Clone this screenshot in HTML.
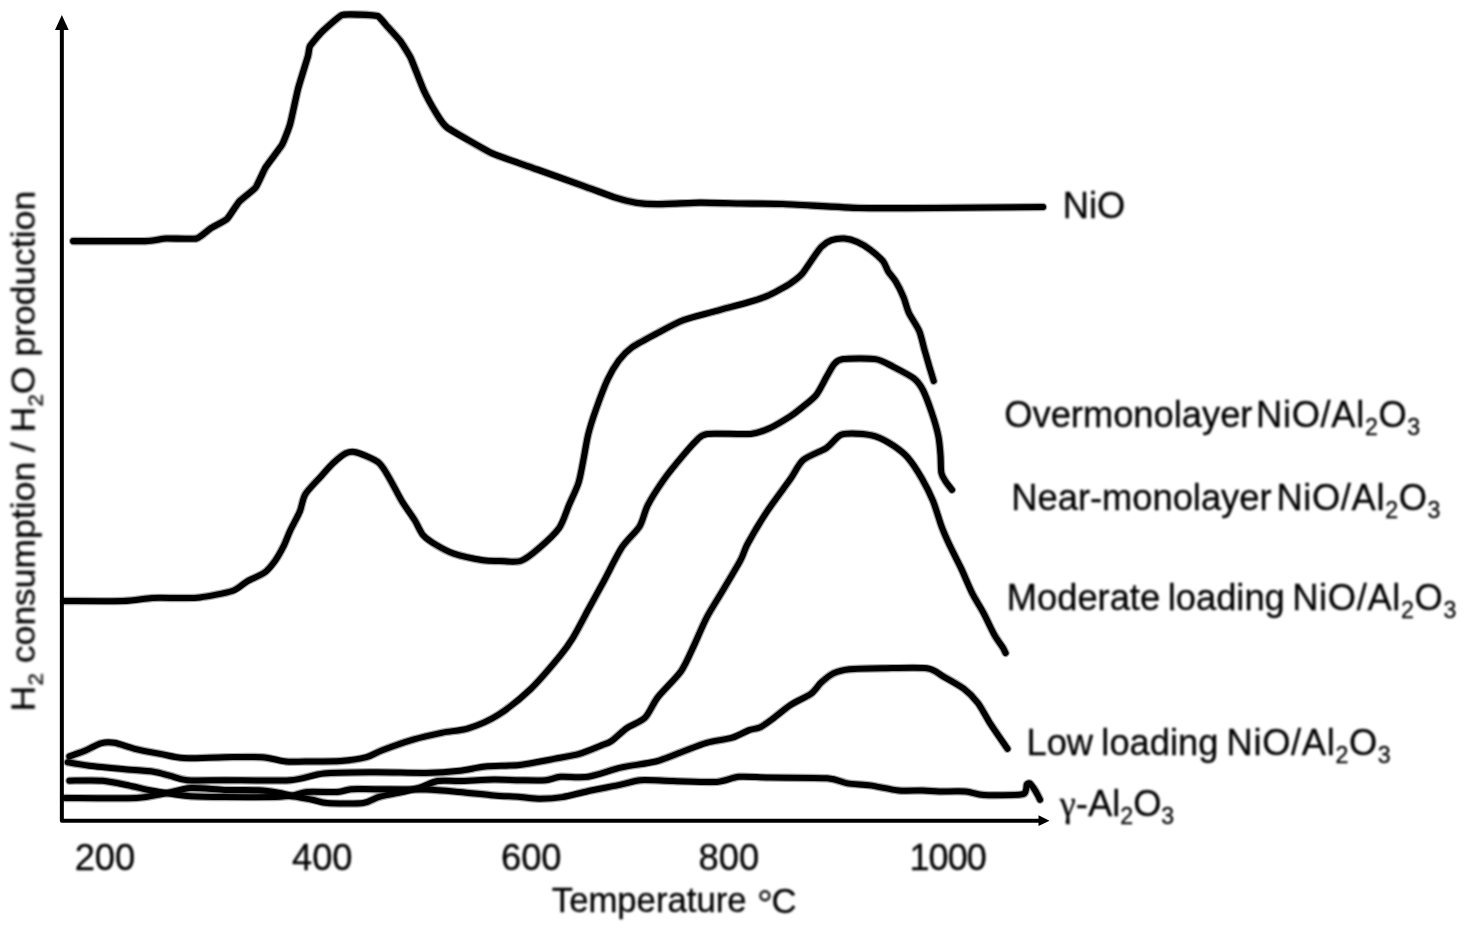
<!DOCTYPE html>
<html><head><meta charset="utf-8"><title>TPR profiles</title>
<style>
html,body{margin:0;padding:0;background:#fff;}
body{width:1473px;height:932px;overflow:hidden;font-family:"Liberation Sans",sans-serif;}
svg{display:block;}

text{font-family:"Liberation Sans",sans-serif;fill:#000;stroke:#000;stroke-width:0.3px;}
</style></head><body>
<svg width="1473" height="932" viewBox="0 0 1473 932">
<defs><filter id="bc" x="-2%" y="-2%" width="104%" height="104%"><feGaussianBlur stdDeviation="0.6"/></filter><filter id="bt" x="-2%" y="-2%" width="104%" height="104%"><feGaussianBlur stdDeviation="0.8"/></filter></defs>
<rect width="1473" height="932" fill="#fff"/>
<g><g fill="none" stroke="#000" stroke-linecap="round" stroke-linejoin="round">
<path d="M73.2 241.1 C78.5 241.1 138.7 241.3 145.5 241.1 C152.3 240.9 162.2 238.7 165.9 238.5 C169.6 238.3 193.2 239.2 196.5 238.5 C199.8 237.8 208.5 229.7 210.7 228.3 C212.9 226.9 224.9 220.9 227.0 219.0 C229.1 217.1 236.9 204.1 239.0 201.8 C241.1 199.5 253.5 190.1 255.5 187.6 C257.5 185.1 263.8 170.3 265.7 167.2 C267.6 164.1 280.2 147.9 282.0 144.8 C283.8 141.7 288.8 128.5 290.0 124.4 C291.2 120.3 296.7 94.0 298.0 89.0 C299.3 84.0 307.1 59.2 308.0 56.0 C308.9 52.8 309.0 47.8 310.0 46.0 C311.0 44.2 319.5 34.3 321.8 32.0 C324.1 29.7 338.7 16.6 341.4 15.3 C344.1 14.0 355.3 14.5 358.0 14.6 C360.7 14.7 375.5 15.2 377.6 16.0 C379.7 16.8 384.4 23.2 386.0 25.0 C387.6 26.8 398.2 38.3 400.0 40.7 C401.8 43.1 409.0 54.3 410.7 57.9 C412.4 61.5 421.7 85.9 423.6 90.0 C425.5 94.1 434.8 110.9 436.5 113.7 C438.2 116.5 443.1 124.7 447.2 127.6 C451.3 130.5 485.7 150.3 492.3 153.4 C498.9 156.5 530.7 167.1 537.3 169.5 C543.9 171.9 576.7 183.6 582.4 185.6 C588.1 187.6 610.7 196.1 614.6 197.4 C618.5 198.7 632.9 202.2 636.0 202.7 C639.1 203.2 652.8 204.2 657.5 204.2 C662.2 204.2 694.0 202.8 700.0 202.7 C706.0 202.6 733.9 203.4 740.0 203.5 C746.1 203.6 774.3 203.7 783.0 204.0 C791.7 204.3 847.9 207.7 859.0 208.0 C870.1 208.3 921.5 208.1 935.0 208.0 C948.5 207.9 1035.1 207.1 1043.0 207.0" stroke-width="8.6" stroke-opacity="0.35"/>
<path d="M73.2 241.1 C78.5 241.1 138.7 241.3 145.5 241.1 C152.3 240.9 162.2 238.7 165.9 238.5 C169.6 238.3 193.2 239.2 196.5 238.5 C199.8 237.8 208.5 229.7 210.7 228.3 C212.9 226.9 224.9 220.9 227.0 219.0 C229.1 217.1 236.9 204.1 239.0 201.8 C241.1 199.5 253.5 190.1 255.5 187.6 C257.5 185.1 263.8 170.3 265.7 167.2 C267.6 164.1 280.2 147.9 282.0 144.8 C283.8 141.7 288.8 128.5 290.0 124.4 C291.2 120.3 296.7 94.0 298.0 89.0 C299.3 84.0 307.1 59.2 308.0 56.0 C308.9 52.8 309.0 47.8 310.0 46.0 C311.0 44.2 319.5 34.3 321.8 32.0 C324.1 29.7 338.7 16.6 341.4 15.3 C344.1 14.0 355.3 14.5 358.0 14.6 C360.7 14.7 375.5 15.2 377.6 16.0 C379.7 16.8 384.4 23.2 386.0 25.0 C387.6 26.8 398.2 38.3 400.0 40.7 C401.8 43.1 409.0 54.3 410.7 57.9 C412.4 61.5 421.7 85.9 423.6 90.0 C425.5 94.1 434.8 110.9 436.5 113.7 C438.2 116.5 443.1 124.7 447.2 127.6 C451.3 130.5 485.7 150.3 492.3 153.4 C498.9 156.5 530.7 167.1 537.3 169.5 C543.9 171.9 576.7 183.6 582.4 185.6 C588.1 187.6 610.7 196.1 614.6 197.4 C618.5 198.7 632.9 202.2 636.0 202.7 C639.1 203.2 652.8 204.2 657.5 204.2 C662.2 204.2 694.0 202.8 700.0 202.7 C706.0 202.6 733.9 203.4 740.0 203.5 C746.1 203.6 774.3 203.7 783.0 204.0 C791.7 204.3 847.9 207.7 859.0 208.0 C870.1 208.3 921.5 208.1 935.0 208.0 C948.5 207.9 1035.1 207.1 1043.0 207.0" stroke-width="6.2"/>
<path d="M64.0 601.0 C71.9 601.0 111.3 601.4 123.0 601.0 C134.7 600.6 144.4 598.4 152.0 598.0 C159.6 597.6 173.6 598.1 180.0 598.0 C186.4 597.9 193.0 598.3 200.0 597.4 C207.0 596.5 225.9 593.1 232.2 591.0 C238.5 588.9 242.9 583.7 247.2 581.3 C251.5 578.9 260.7 575.4 264.4 572.7 C268.1 570.0 272.4 564.5 275.0 560.9 C277.6 557.3 281.7 549.9 283.7 545.9 C285.7 541.9 287.9 535.5 290.0 530.9 C292.1 526.3 297.8 516.4 299.8 511.5 C301.8 506.6 302.5 499.0 305.2 494.4 C307.9 489.8 316.5 481.3 320.2 477.2 C323.9 473.1 329.6 466.5 333.0 463.3 C336.4 460.1 342.7 454.6 345.9 453.2 C349.1 451.8 352.4 451.3 356.7 452.5 C361.0 453.7 373.8 458.9 378.1 462.2 C382.4 465.5 385.7 472.1 388.8 477.2 C391.9 482.3 398.3 495.1 401.7 500.8 C405.1 506.5 411.7 515.4 414.6 520.0 C417.5 524.6 420.3 531.9 423.2 535.2 C426.1 538.5 432.0 542.4 436.0 544.8 C440.0 547.2 446.9 551.3 453.2 553.4 C459.5 555.5 477.1 559.3 483.3 560.3 C489.5 561.3 495.0 560.9 500.0 561.0 C505.0 561.1 515.5 562.6 520.6 561.0 C525.7 559.4 533.2 553.2 538.3 548.8 C543.4 544.4 555.1 533.7 559.2 527.9 C563.3 522.1 566.3 511.3 568.9 505.3 C571.5 499.3 576.6 488.8 578.5 482.8 C580.4 476.8 582.0 466.7 583.3 460.3 C584.6 453.9 586.5 441.4 588.2 434.5 C589.9 427.6 593.6 416.1 596.2 408.8 C598.8 401.5 604.5 386.2 607.5 379.8 C610.5 373.4 615.6 364.8 618.8 360.5 C622.0 356.2 626.5 351.3 631.6 347.6 C636.7 343.9 650.5 336.8 657.4 333.1 C664.3 329.4 675.4 323.1 683.1 320.2 C690.8 317.3 706.7 313.6 715.3 311.2 C723.9 308.8 740.6 304.5 747.5 302.5 C754.4 300.5 762.6 297.8 766.8 296.1 C771.0 294.4 775.9 291.7 779.0 290.0 C782.1 288.3 787.2 285.6 790.3 283.5 C793.4 281.4 799.2 277.1 801.9 274.1 C804.6 271.1 808.3 264.8 810.9 261.2 C813.5 257.6 818.5 249.8 821.2 247.0 C823.9 244.2 828.4 241.2 831.5 240.1 C834.6 239.0 841.0 238.3 844.4 238.5 C847.8 238.7 853.9 240.4 857.3 241.9 C860.7 243.4 866.7 247.0 870.1 249.6 C873.5 252.2 880.6 258.3 883.0 261.2 C885.4 264.1 886.5 268.8 888.2 271.5 C889.9 274.2 893.8 278.4 895.9 281.8 C898.0 285.2 901.9 293.2 903.6 297.3 C905.3 301.4 906.7 308.2 908.8 312.7 C910.9 317.2 917.0 325.9 919.1 330.7 C921.2 335.5 922.8 344.0 924.2 348.8 C925.6 353.6 928.1 362.5 929.4 366.8 C930.7 371.1 933.1 379.1 933.7 381.0" stroke-width="8.4" stroke-opacity="0.35"/>
<path d="M64.0 601.0 C71.9 601.0 111.3 601.4 123.0 601.0 C134.7 600.6 144.4 598.4 152.0 598.0 C159.6 597.6 173.6 598.1 180.0 598.0 C186.4 597.9 193.0 598.3 200.0 597.4 C207.0 596.5 225.9 593.1 232.2 591.0 C238.5 588.9 242.9 583.7 247.2 581.3 C251.5 578.9 260.7 575.4 264.4 572.7 C268.1 570.0 272.4 564.5 275.0 560.9 C277.6 557.3 281.7 549.9 283.7 545.9 C285.7 541.9 287.9 535.5 290.0 530.9 C292.1 526.3 297.8 516.4 299.8 511.5 C301.8 506.6 302.5 499.0 305.2 494.4 C307.9 489.8 316.5 481.3 320.2 477.2 C323.9 473.1 329.6 466.5 333.0 463.3 C336.4 460.1 342.7 454.6 345.9 453.2 C349.1 451.8 352.4 451.3 356.7 452.5 C361.0 453.7 373.8 458.9 378.1 462.2 C382.4 465.5 385.7 472.1 388.8 477.2 C391.9 482.3 398.3 495.1 401.7 500.8 C405.1 506.5 411.7 515.4 414.6 520.0 C417.5 524.6 420.3 531.9 423.2 535.2 C426.1 538.5 432.0 542.4 436.0 544.8 C440.0 547.2 446.9 551.3 453.2 553.4 C459.5 555.5 477.1 559.3 483.3 560.3 C489.5 561.3 495.0 560.9 500.0 561.0 C505.0 561.1 515.5 562.6 520.6 561.0 C525.7 559.4 533.2 553.2 538.3 548.8 C543.4 544.4 555.1 533.7 559.2 527.9 C563.3 522.1 566.3 511.3 568.9 505.3 C571.5 499.3 576.6 488.8 578.5 482.8 C580.4 476.8 582.0 466.7 583.3 460.3 C584.6 453.9 586.5 441.4 588.2 434.5 C589.9 427.6 593.6 416.1 596.2 408.8 C598.8 401.5 604.5 386.2 607.5 379.8 C610.5 373.4 615.6 364.8 618.8 360.5 C622.0 356.2 626.5 351.3 631.6 347.6 C636.7 343.9 650.5 336.8 657.4 333.1 C664.3 329.4 675.4 323.1 683.1 320.2 C690.8 317.3 706.7 313.6 715.3 311.2 C723.9 308.8 740.6 304.5 747.5 302.5 C754.4 300.5 762.6 297.8 766.8 296.1 C771.0 294.4 775.9 291.7 779.0 290.0 C782.1 288.3 787.2 285.6 790.3 283.5 C793.4 281.4 799.2 277.1 801.9 274.1 C804.6 271.1 808.3 264.8 810.9 261.2 C813.5 257.6 818.5 249.8 821.2 247.0 C823.9 244.2 828.4 241.2 831.5 240.1 C834.6 239.0 841.0 238.3 844.4 238.5 C847.8 238.7 853.9 240.4 857.3 241.9 C860.7 243.4 866.7 247.0 870.1 249.6 C873.5 252.2 880.6 258.3 883.0 261.2 C885.4 264.1 886.5 268.8 888.2 271.5 C889.9 274.2 893.8 278.4 895.9 281.8 C898.0 285.2 901.9 293.2 903.6 297.3 C905.3 301.4 906.7 308.2 908.8 312.7 C910.9 317.2 917.0 325.9 919.1 330.7 C921.2 335.5 922.8 344.0 924.2 348.8 C925.6 353.6 928.1 362.5 929.4 366.8 C930.7 371.1 933.1 379.1 933.7 381.0" stroke-width="6.0"/>
<path d="M69.4 756.4 C71.5 755.6 81.3 752.2 85.5 750.5 C89.7 748.8 96.9 744.3 100.8 743.3 C104.7 742.3 109.9 742.1 114.4 742.8 C118.9 743.5 128.7 747.3 134.8 748.8 C140.9 750.3 153.6 752.7 160.2 753.9 C166.8 755.1 175.4 757.7 184.0 758.1 C192.6 758.5 214.3 757.3 224.7 757.2 C235.1 757.1 254.0 756.6 262.1 757.2 C270.2 757.8 280.1 760.9 285.8 761.5 C291.5 762.1 297.7 761.6 305.0 761.5 C312.3 761.4 332.7 761.6 340.9 761.0 C349.1 760.4 361.0 758.6 366.4 757.2 C371.8 755.8 375.3 752.9 381.6 750.5 C387.9 748.1 405.8 741.8 413.9 739.4 C422.0 737.0 435.5 734.1 442.7 732.6 C449.9 731.1 460.8 730.7 468.2 728.4 C475.6 726.1 489.7 720.3 498.0 715.0 C506.3 709.7 522.4 696.9 530.7 689.0 C539.0 681.1 554.4 662.7 560.0 655.9 C565.6 649.1 569.1 644.1 572.9 637.9 C576.7 631.7 584.2 617.1 588.3 609.5 C592.4 601.9 599.3 589.5 603.8 581.2 C608.3 572.9 617.2 554.5 622.0 547.2 C626.8 539.9 636.3 531.8 639.7 526.2 C643.1 520.6 644.5 511.5 647.7 505.3 C650.9 499.1 659.1 486.3 663.8 479.6 C668.5 472.9 678.8 460.5 683.1 455.4 C687.4 450.3 692.8 443.9 696.0 441.0 C699.2 438.1 700.0 434.8 707.3 433.9 C714.6 433.0 742.3 434.7 750.7 433.9 C759.1 433.1 764.8 430.3 770.0 428.0 C775.2 425.7 785.9 419.1 790.0 416.5 C794.1 413.9 797.1 411.5 800.6 408.6 C804.1 405.7 812.7 399.3 816.1 395.1 C819.5 390.9 824.0 381.2 826.4 377.1 C828.8 373.0 831.9 366.6 834.1 364.2 C836.3 361.8 837.6 359.8 843.1 359.1 C848.6 358.4 868.6 358.1 875.3 359.1 C882.0 360.1 888.2 364.2 893.3 366.8 C898.4 369.4 910.0 375.3 913.9 378.4 C917.8 381.5 920.5 385.4 922.9 390.0 C925.3 394.6 929.8 406.9 931.9 413.1 C934.0 419.3 937.3 430.7 938.4 436.3 C939.5 441.9 940.1 450.1 940.5 455.0 C940.9 459.9 940.7 469.5 941.4 473.0 C942.1 476.5 944.2 479.2 945.6 481.4 C947.0 483.6 951.1 488.7 952.0 489.8" stroke-width="8.4" stroke-opacity="0.35"/>
<path d="M69.4 756.4 C71.5 755.6 81.3 752.2 85.5 750.5 C89.7 748.8 96.9 744.3 100.8 743.3 C104.7 742.3 109.9 742.1 114.4 742.8 C118.9 743.5 128.7 747.3 134.8 748.8 C140.9 750.3 153.6 752.7 160.2 753.9 C166.8 755.1 175.4 757.7 184.0 758.1 C192.6 758.5 214.3 757.3 224.7 757.2 C235.1 757.1 254.0 756.6 262.1 757.2 C270.2 757.8 280.1 760.9 285.8 761.5 C291.5 762.1 297.7 761.6 305.0 761.5 C312.3 761.4 332.7 761.6 340.9 761.0 C349.1 760.4 361.0 758.6 366.4 757.2 C371.8 755.8 375.3 752.9 381.6 750.5 C387.9 748.1 405.8 741.8 413.9 739.4 C422.0 737.0 435.5 734.1 442.7 732.6 C449.9 731.1 460.8 730.7 468.2 728.4 C475.6 726.1 489.7 720.3 498.0 715.0 C506.3 709.7 522.4 696.9 530.7 689.0 C539.0 681.1 554.4 662.7 560.0 655.9 C565.6 649.1 569.1 644.1 572.9 637.9 C576.7 631.7 584.2 617.1 588.3 609.5 C592.4 601.9 599.3 589.5 603.8 581.2 C608.3 572.9 617.2 554.5 622.0 547.2 C626.8 539.9 636.3 531.8 639.7 526.2 C643.1 520.6 644.5 511.5 647.7 505.3 C650.9 499.1 659.1 486.3 663.8 479.6 C668.5 472.9 678.8 460.5 683.1 455.4 C687.4 450.3 692.8 443.9 696.0 441.0 C699.2 438.1 700.0 434.8 707.3 433.9 C714.6 433.0 742.3 434.7 750.7 433.9 C759.1 433.1 764.8 430.3 770.0 428.0 C775.2 425.7 785.9 419.1 790.0 416.5 C794.1 413.9 797.1 411.5 800.6 408.6 C804.1 405.7 812.7 399.3 816.1 395.1 C819.5 390.9 824.0 381.2 826.4 377.1 C828.8 373.0 831.9 366.6 834.1 364.2 C836.3 361.8 837.6 359.8 843.1 359.1 C848.6 358.4 868.6 358.1 875.3 359.1 C882.0 360.1 888.2 364.2 893.3 366.8 C898.4 369.4 910.0 375.3 913.9 378.4 C917.8 381.5 920.5 385.4 922.9 390.0 C925.3 394.6 929.8 406.9 931.9 413.1 C934.0 419.3 937.3 430.7 938.4 436.3 C939.5 441.9 940.1 450.1 940.5 455.0 C940.9 459.9 940.7 469.5 941.4 473.0 C942.1 476.5 944.2 479.2 945.6 481.4 C947.0 483.6 951.1 488.7 952.0 489.8" stroke-width="6.0"/>
<path d="M67.7 762.3 C70.5 762.8 81.5 764.8 88.9 765.7 C96.3 766.6 114.3 768.3 122.9 769.1 C131.5 769.9 147.1 770.8 153.4 771.7 C159.7 772.6 165.9 774.8 170.4 775.9 C174.9 777.0 180.2 779.6 187.4 780.2 C194.6 780.8 211.0 780.2 224.7 780.2 C238.4 780.2 276.8 781.1 290.0 780.2 C303.2 779.3 312.6 774.5 323.9 773.4 C335.2 772.3 361.3 772.3 374.9 772.2 C388.5 772.1 414.5 773.2 425.8 773.0 C437.1 772.8 451.8 771.7 459.7 770.8 C467.6 769.9 477.2 767.4 485.2 766.6 C493.2 765.8 510.8 765.9 520.0 764.9 C529.2 763.9 546.0 760.4 553.9 758.9 C561.8 757.4 573.1 755.7 579.4 753.9 C585.7 752.1 597.2 747.1 601.5 745.4 C605.8 743.7 608.1 743.2 611.5 740.9 C614.9 738.6 622.5 731.1 627.0 728.0 C631.5 724.9 640.9 721.8 645.0 717.7 C649.1 713.6 653.1 703.3 657.9 697.1 C662.7 690.9 676.2 678.2 681.0 671.3 C685.8 664.4 690.5 652.8 693.9 645.6 C697.3 638.4 703.0 624.5 706.8 617.3 C710.6 610.1 717.7 599.1 722.2 591.5 C726.7 583.9 736.9 566.9 740.3 560.6 C743.7 554.3 744.0 550.5 747.5 544.0 C751.0 537.5 761.1 520.4 766.8 511.8 C772.5 503.2 785.1 486.5 790.0 479.6 C794.9 472.7 798.3 464.2 803.2 460.0 C808.1 455.8 821.4 451.2 826.4 447.9 C831.4 444.6 836.4 436.9 840.5 435.0 C844.6 433.1 852.7 433.5 857.3 433.7 C861.9 433.9 870.4 434.7 875.3 436.3 C880.2 437.9 889.7 443.1 894.0 446.0 C898.3 448.9 904.2 453.4 907.9 457.7 C911.6 462.0 918.6 472.8 921.9 478.6 C925.2 484.4 930.4 494.6 933.0 500.9 C935.6 507.2 939.2 520.0 941.4 526.0 C943.6 532.0 947.2 540.0 949.8 545.6 C952.4 551.2 957.9 561.6 960.9 567.9 C963.9 574.2 969.1 587.0 972.1 593.0 C975.1 599.0 980.3 607.0 983.3 612.6 C986.3 618.2 991.8 630.2 994.4 634.9 C997.0 639.6 1001.3 645.1 1002.8 647.5 C1004.3 649.9 1005.2 652.3 1005.6 653.0" stroke-width="8.4" stroke-opacity="0.35"/>
<path d="M67.7 762.3 C70.5 762.8 81.5 764.8 88.9 765.7 C96.3 766.6 114.3 768.3 122.9 769.1 C131.5 769.9 147.1 770.8 153.4 771.7 C159.7 772.6 165.9 774.8 170.4 775.9 C174.9 777.0 180.2 779.6 187.4 780.2 C194.6 780.8 211.0 780.2 224.7 780.2 C238.4 780.2 276.8 781.1 290.0 780.2 C303.2 779.3 312.6 774.5 323.9 773.4 C335.2 772.3 361.3 772.3 374.9 772.2 C388.5 772.1 414.5 773.2 425.8 773.0 C437.1 772.8 451.8 771.7 459.7 770.8 C467.6 769.9 477.2 767.4 485.2 766.6 C493.2 765.8 510.8 765.9 520.0 764.9 C529.2 763.9 546.0 760.4 553.9 758.9 C561.8 757.4 573.1 755.7 579.4 753.9 C585.7 752.1 597.2 747.1 601.5 745.4 C605.8 743.7 608.1 743.2 611.5 740.9 C614.9 738.6 622.5 731.1 627.0 728.0 C631.5 724.9 640.9 721.8 645.0 717.7 C649.1 713.6 653.1 703.3 657.9 697.1 C662.7 690.9 676.2 678.2 681.0 671.3 C685.8 664.4 690.5 652.8 693.9 645.6 C697.3 638.4 703.0 624.5 706.8 617.3 C710.6 610.1 717.7 599.1 722.2 591.5 C726.7 583.9 736.9 566.9 740.3 560.6 C743.7 554.3 744.0 550.5 747.5 544.0 C751.0 537.5 761.1 520.4 766.8 511.8 C772.5 503.2 785.1 486.5 790.0 479.6 C794.9 472.7 798.3 464.2 803.2 460.0 C808.1 455.8 821.4 451.2 826.4 447.9 C831.4 444.6 836.4 436.9 840.5 435.0 C844.6 433.1 852.7 433.5 857.3 433.7 C861.9 433.9 870.4 434.7 875.3 436.3 C880.2 437.9 889.7 443.1 894.0 446.0 C898.3 448.9 904.2 453.4 907.9 457.7 C911.6 462.0 918.6 472.8 921.9 478.6 C925.2 484.4 930.4 494.6 933.0 500.9 C935.6 507.2 939.2 520.0 941.4 526.0 C943.6 532.0 947.2 540.0 949.8 545.6 C952.4 551.2 957.9 561.6 960.9 567.9 C963.9 574.2 969.1 587.0 972.1 593.0 C975.1 599.0 980.3 607.0 983.3 612.6 C986.3 618.2 991.8 630.2 994.4 634.9 C997.0 639.6 1001.3 645.1 1002.8 647.5 C1004.3 649.9 1005.2 652.3 1005.6 653.0" stroke-width="6.0"/>
<path d="M69.4 780.7 C73.8 780.7 94.7 780.1 102.5 780.7 C110.3 781.3 121.7 784.0 128.0 785.3 C134.3 786.6 143.9 789.1 150.0 790.3 C156.1 791.5 168.4 793.4 173.8 794.2 C179.2 795.0 184.0 795.9 190.8 796.3 C197.6 796.7 213.4 797.0 224.7 797.1 C236.0 797.2 266.9 797.2 275.6 797.1 C284.3 797.0 285.1 795.7 290.0 796.0 C294.9 796.3 307.0 798.8 312.0 799.7 C317.0 800.6 320.5 802.6 327.3 803.1 C334.1 803.6 356.2 803.9 363.0 803.1 C369.8 802.3 373.6 798.5 378.3 797.1 C383.0 795.7 393.2 794.1 398.6 792.9 C404.0 791.7 413.8 789.4 419.0 787.8 C424.2 786.2 432.3 781.9 437.7 781.0 C443.1 780.1 452.2 781.2 459.7 781.0 C467.2 780.8 485.7 779.7 493.7 779.6 C501.7 779.5 513.1 780.1 520.0 780.2 C526.9 780.3 540.1 780.7 545.5 780.2 C550.9 779.7 555.0 777.3 560.7 776.8 C566.4 776.3 579.8 778.1 587.9 776.8 C596.0 775.5 612.7 769.4 621.8 767.4 C630.9 765.4 647.9 763.5 655.8 761.5 C663.7 759.5 674.4 754.7 681.2 752.2 C688.0 749.7 699.9 744.7 706.7 742.8 C713.5 740.9 726.5 739.4 732.2 737.7 C737.9 736.0 745.4 731.5 749.1 730.1 C752.8 728.7 756.9 728.9 760.0 727.4 C763.1 725.9 768.1 722.2 772.2 719.2 C776.3 716.2 785.3 708.4 790.5 705.0 C795.7 701.6 806.8 696.8 810.9 693.8 C815.0 690.8 818.1 685.3 821.1 682.6 C824.1 679.9 829.5 675.2 833.3 673.4 C837.1 671.6 843.1 670.0 849.6 669.3 C856.1 668.6 871.9 668.4 882.2 668.3 C892.5 668.2 918.9 667.2 927.0 668.3 C935.1 669.4 938.4 673.8 943.3 676.5 C948.2 679.2 959.1 685.2 963.7 688.7 C968.3 692.2 974.4 698.4 977.9 703.0 C981.4 707.6 986.2 717.2 990.1 723.3 C994.0 729.4 1005.2 745.4 1007.5 748.8" stroke-width="8.4" stroke-opacity="0.35"/>
<path d="M69.4 780.7 C73.8 780.7 94.7 780.1 102.5 780.7 C110.3 781.3 121.7 784.0 128.0 785.3 C134.3 786.6 143.9 789.1 150.0 790.3 C156.1 791.5 168.4 793.4 173.8 794.2 C179.2 795.0 184.0 795.9 190.8 796.3 C197.6 796.7 213.4 797.0 224.7 797.1 C236.0 797.2 266.9 797.2 275.6 797.1 C284.3 797.0 285.1 795.7 290.0 796.0 C294.9 796.3 307.0 798.8 312.0 799.7 C317.0 800.6 320.5 802.6 327.3 803.1 C334.1 803.6 356.2 803.9 363.0 803.1 C369.8 802.3 373.6 798.5 378.3 797.1 C383.0 795.7 393.2 794.1 398.6 792.9 C404.0 791.7 413.8 789.4 419.0 787.8 C424.2 786.2 432.3 781.9 437.7 781.0 C443.1 780.1 452.2 781.2 459.7 781.0 C467.2 780.8 485.7 779.7 493.7 779.6 C501.7 779.5 513.1 780.1 520.0 780.2 C526.9 780.3 540.1 780.7 545.5 780.2 C550.9 779.7 555.0 777.3 560.7 776.8 C566.4 776.3 579.8 778.1 587.9 776.8 C596.0 775.5 612.7 769.4 621.8 767.4 C630.9 765.4 647.9 763.5 655.8 761.5 C663.7 759.5 674.4 754.7 681.2 752.2 C688.0 749.7 699.9 744.7 706.7 742.8 C713.5 740.9 726.5 739.4 732.2 737.7 C737.9 736.0 745.4 731.5 749.1 730.1 C752.8 728.7 756.9 728.9 760.0 727.4 C763.1 725.9 768.1 722.2 772.2 719.2 C776.3 716.2 785.3 708.4 790.5 705.0 C795.7 701.6 806.8 696.8 810.9 693.8 C815.0 690.8 818.1 685.3 821.1 682.6 C824.1 679.9 829.5 675.2 833.3 673.4 C837.1 671.6 843.1 670.0 849.6 669.3 C856.1 668.6 871.9 668.4 882.2 668.3 C892.5 668.2 918.9 667.2 927.0 668.3 C935.1 669.4 938.4 673.8 943.3 676.5 C948.2 679.2 959.1 685.2 963.7 688.7 C968.3 692.2 974.4 698.4 977.9 703.0 C981.4 707.6 986.2 717.2 990.1 723.3 C994.0 729.4 1005.2 745.4 1007.5 748.8" stroke-width="6.0"/>
<path d="M65.2 798.0 C74.7 798.0 123.4 798.6 136.5 798.0 C149.6 797.4 156.4 795.0 163.6 793.7 C170.8 792.4 182.7 788.6 190.8 788.1 C198.9 787.6 215.6 789.7 224.7 790.0 C233.8 790.3 251.3 789.9 258.7 790.3 C266.1 790.7 275.6 792.3 280.0 793.0 C284.4 793.7 288.4 795.6 292.0 795.5 C295.6 795.4 300.9 792.5 307.0 792.0 C313.1 791.5 331.6 792.4 337.5 792.0 C343.4 791.6 346.1 789.6 351.1 789.2 C356.1 788.8 364.9 789.2 374.9 789.2 C384.9 789.2 414.5 789.1 425.8 789.5 C437.1 789.9 450.6 791.2 459.7 792.0 C468.8 792.8 485.7 794.7 493.7 795.4 C501.7 796.1 513.8 796.5 520.0 797.0 C526.2 797.5 534.7 798.8 540.4 798.8 C546.1 798.8 556.1 798.1 562.4 797.1 C568.7 796.1 580.0 792.9 587.9 791.2 C595.8 789.5 614.8 785.9 621.8 784.4 C628.8 782.9 633.7 780.7 640.5 780.2 C647.3 779.7 662.5 780.8 672.7 781.0 C682.9 781.2 708.1 782.5 716.9 781.9 C725.7 781.3 731.8 777.4 738.9 776.8 C746.0 776.2 758.2 777.4 770.0 777.6 C781.8 777.8 816.9 777.5 827.2 778.3 C837.5 779.1 841.9 782.5 847.6 783.4 C853.3 784.3 863.2 784.5 870.0 785.4 C876.8 786.3 891.4 789.8 898.5 790.5 C905.6 791.2 917.5 790.4 922.9 790.5 C928.3 790.6 933.5 791.4 939.2 791.5 C944.9 791.6 959.7 791.0 965.7 791.5 C971.7 792.0 976.7 794.6 984.0 795.0 C991.3 795.4 1015.1 795.2 1020.7 794.6 C1026.3 794.0 1025.0 791.9 1025.8 790.5 C1026.6 789.1 1026.3 785.3 1026.8 784.4 C1027.3 783.5 1029.0 782.9 1029.9 783.4 C1030.8 783.9 1032.8 786.9 1033.9 788.5 C1035.0 790.1 1037.2 794.1 1038.0 795.6 C1038.8 797.1 1039.7 799.2 1040.0 799.7" stroke-width="8.4" stroke-opacity="0.35"/>
<path d="M65.2 798.0 C74.7 798.0 123.4 798.6 136.5 798.0 C149.6 797.4 156.4 795.0 163.6 793.7 C170.8 792.4 182.7 788.6 190.8 788.1 C198.9 787.6 215.6 789.7 224.7 790.0 C233.8 790.3 251.3 789.9 258.7 790.3 C266.1 790.7 275.6 792.3 280.0 793.0 C284.4 793.7 288.4 795.6 292.0 795.5 C295.6 795.4 300.9 792.5 307.0 792.0 C313.1 791.5 331.6 792.4 337.5 792.0 C343.4 791.6 346.1 789.6 351.1 789.2 C356.1 788.8 364.9 789.2 374.9 789.2 C384.9 789.2 414.5 789.1 425.8 789.5 C437.1 789.9 450.6 791.2 459.7 792.0 C468.8 792.8 485.7 794.7 493.7 795.4 C501.7 796.1 513.8 796.5 520.0 797.0 C526.2 797.5 534.7 798.8 540.4 798.8 C546.1 798.8 556.1 798.1 562.4 797.1 C568.7 796.1 580.0 792.9 587.9 791.2 C595.8 789.5 614.8 785.9 621.8 784.4 C628.8 782.9 633.7 780.7 640.5 780.2 C647.3 779.7 662.5 780.8 672.7 781.0 C682.9 781.2 708.1 782.5 716.9 781.9 C725.7 781.3 731.8 777.4 738.9 776.8 C746.0 776.2 758.2 777.4 770.0 777.6 C781.8 777.8 816.9 777.5 827.2 778.3 C837.5 779.1 841.9 782.5 847.6 783.4 C853.3 784.3 863.2 784.5 870.0 785.4 C876.8 786.3 891.4 789.8 898.5 790.5 C905.6 791.2 917.5 790.4 922.9 790.5 C928.3 790.6 933.5 791.4 939.2 791.5 C944.9 791.6 959.7 791.0 965.7 791.5 C971.7 792.0 976.7 794.6 984.0 795.0 C991.3 795.4 1015.1 795.2 1020.7 794.6 C1026.3 794.0 1025.0 791.9 1025.8 790.5 C1026.6 789.1 1026.3 785.3 1026.8 784.4 C1027.3 783.5 1029.0 782.9 1029.9 783.4 C1030.8 783.9 1032.8 786.9 1033.9 788.5 C1035.0 790.1 1037.2 794.1 1038.0 795.6 C1038.8 797.1 1039.7 799.2 1040.0 799.7" stroke-width="6.0"/>
</g>
<g fill="none" stroke="#000" stroke-width="4" stroke-linejoin="round" stroke-linecap="butt">
<path d="M61.85 28 L61.85 820.7 L1041 820.7"/>
</g>
<path d="M61.85 15 L55 30 L68.7 30 Z" fill="#000"/>
<path d="M1049.5 820.7 L1038.5 815.3 L1038.5 826.1 Z" fill="#000"/>
</g>
<g filter="url(#bt)">
<text x="1062.8" y="218.4" font-size="36.3">NiO</text>
<text x="1004.3" y="426.8" font-size="36.3">Overmonolayer</text>
<text x="1256.1" y="426.8" font-size="36.3" letter-spacing="0.65">NiO/Al<tspan dy="8" font-size="23.2">2</tspan><tspan dy="-8">O</tspan><tspan dy="8" font-size="23.2">3</tspan></text>
<text x="1011.3" y="510" font-size="36.3">Near-monolayer</text>
<text x="1276.4" y="510" font-size="36.3" letter-spacing="0.65">NiO/Al<tspan dy="8" font-size="23.2">2</tspan><tspan dy="-8">O</tspan><tspan dy="8" font-size="23.2">3</tspan></text>
<text x="1006.8" y="609.6" font-size="36.3" word-spacing="-2.5">Moderate loading</text>
<text x="1292.2" y="609.6" font-size="36.3" letter-spacing="0.65">NiO/Al<tspan dy="8" font-size="23.2">2</tspan><tspan dy="-8">O</tspan><tspan dy="8" font-size="23.2">3</tspan></text>
<text x="1026.5" y="755" font-size="36.3" word-spacing="-1.8">Low loading</text>
<text x="1226.6" y="755" font-size="36.3" letter-spacing="0.65">NiO/Al<tspan dy="8" font-size="23.2">2</tspan><tspan dy="-8">O</tspan><tspan dy="8" font-size="23.2">3</tspan></text>
<text x="1059.8" y="815.8" font-size="36.3"><tspan font-family="Liberation Serif, serif">γ</tspan>-Al<tspan dy="8" font-size="23.2">2</tspan><tspan dy="-8" font-size="1">&#8203;</tspan>O<tspan dy="8" font-size="23.2">3</tspan><tspan dy="-8" font-size="1">&#8203;</tspan></text>
<text x="74.7" y="869.7" font-size="36.3">200</text>
<text x="292" y="869.7" font-size="36.3">400</text>
<text x="501" y="869.7" font-size="36.3">600</text>
<text x="698.6" y="869.7" font-size="36.3">800</text>
<text x="909.5" y="869.7" font-size="36" letter-spacing="-0.9">1000</text>
<text x="551.8" y="912.3" font-size="34.7">Temperature</text>
<circle cx="764.9" cy="895.7" r="4.5" fill="none" stroke="#111" stroke-width="2.4"/>
<text x="771.5" y="912.6" font-size="34.7">C</text>
<g transform="translate(34.6,711.3) rotate(-90) scale(1.076,1)"><text x="0" y="0" font-size="33">H<tspan dy="7.5" font-size="21">2</tspan><tspan dy="-7.5"> consumption / H</tspan><tspan dy="7.5" font-size="21">2</tspan><tspan dy="-7.5">O production</tspan></text></g>
</g>
</svg>
</body></html>
